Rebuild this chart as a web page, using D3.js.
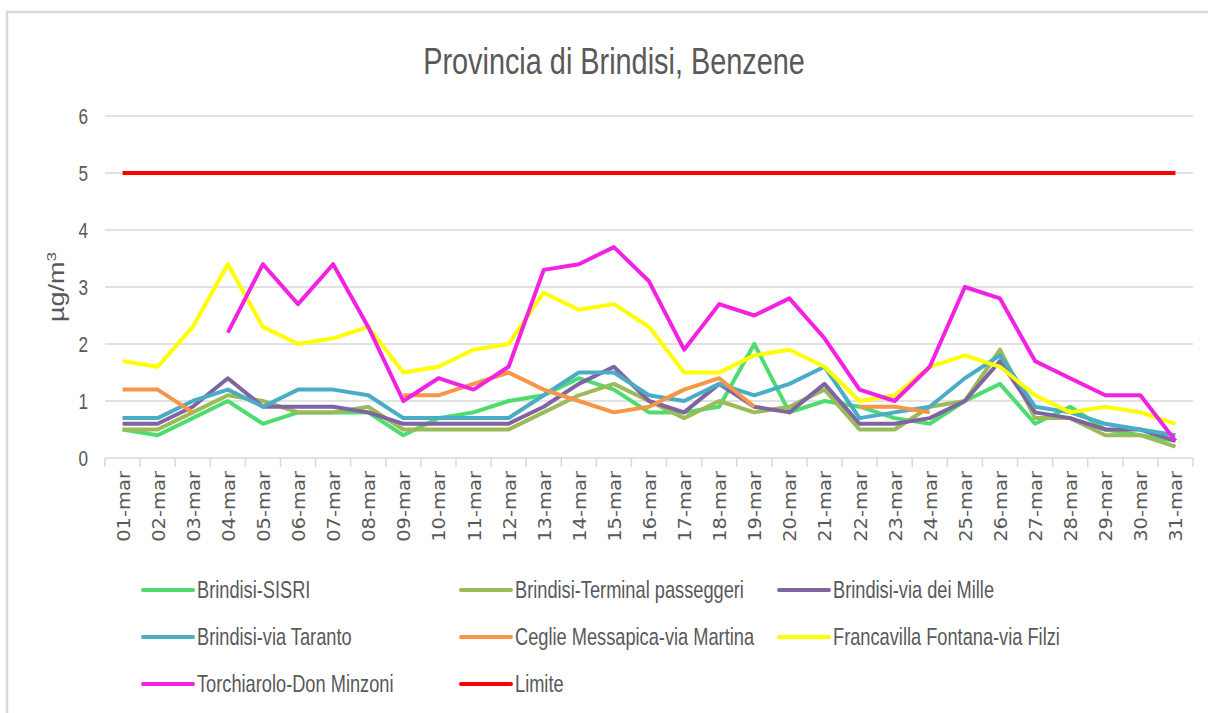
<!DOCTYPE html>
<html>
<head>
<meta charset="utf-8">
<script src="https://cdn.jsdelivr.net/npm/d3@7"></script>
<style>
  body { margin: 0; background: #fff; }
  text { font-family: "Liberation Sans", Arial, sans-serif; fill: #595959; }
</style>
</head>
<body>
<div id="chart"></div>
<script>
// categories
let days = ['01-mar','02-mar','03-mar','04-mar','05-mar','06-mar','07-mar','08-mar','09-mar','10-mar',
            '11-mar','12-mar','13-mar','14-mar','15-mar','16-mar','17-mar','18-mar','19-mar','20-mar',
            '21-mar','22-mar','23-mar','24-mar','25-mar','26-mar','27-mar','28-mar','29-mar','30-mar','31-mar'];

// series values (µg/m3), null = no data
let sisri       = [0.5,0.4,0.7,1.0,0.6,0.8,0.8,0.8,0.4,0.7,0.8,1.0,1.1,1.4,1.2,0.8,0.8,0.9,2.0,0.8,1.0,0.9,0.7,0.6,1.0,1.3,0.6,0.9,0.5,0.4,0.3];
let terminal    = [0.5,0.5,0.8,1.1,1.0,0.8,0.8,0.9,0.5,0.5,0.5,0.5,0.8,1.1,1.3,1.0,0.7,1.0,0.8,0.9,1.2,0.5,0.5,0.9,1.0,1.9,0.7,0.7,0.4,0.4,0.2];
let mille       = [0.6,0.6,0.9,1.4,0.9,0.9,0.9,0.8,0.6,0.6,0.6,0.6,0.9,1.3,1.6,1.0,0.8,1.3,0.9,0.8,1.3,0.6,0.6,0.7,1.0,1.7,0.8,0.7,0.5,0.5,0.3];
let taranto     = [0.7,0.7,1.0,1.2,0.9,1.2,1.2,1.1,0.7,0.7,0.7,0.7,1.1,1.5,1.5,1.1,1.0,1.3,1.1,1.3,1.6,0.7,0.8,0.9,1.4,1.8,0.9,0.8,0.6,0.5,0.4];
let ceglie      = [1.2,1.2,0.8,null,null,null,null,null,1.1,1.1,1.3,1.5,1.2,1.0,0.8,0.9,1.2,1.4,0.9,null,null,0.9,0.9,0.8,null,null,null,null,null,null,null];
let francavilla = [1.7,1.6,2.3,3.4,2.3,2.0,2.1,2.3,1.5,1.6,1.9,2.0,2.9,2.6,2.7,2.3,1.5,1.5,1.8,1.9,1.6,1.0,1.1,1.6,1.8,1.6,1.1,0.8,0.9,0.8,0.6];
let torchiarolo = [null,null,null,2.2,3.4,2.7,3.4,2.3,1.0,1.4,1.2,1.6,3.3,3.4,3.7,3.1,1.9,2.7,2.5,2.8,2.1,1.2,1.0,1.6,3.0,2.8,1.7,1.4,1.1,1.1,0.3];
let limite      = [5,5,5,5,5,5,5,5,5,5,5,5,5,5,5,5,5,5,5,5,5,5,5,5,5,5,5,5,5,5,5];

let yTicks = [0,1,2,3,4,5,6];

let seriesNames  = ['Brindisi-SISRI','Brindisi-Terminal passeggeri','Brindisi-via dei Mille',
                    'Brindisi-via Taranto','Ceglie Messapica-via Martina','Francavilla Fontana-via Filzi',
                    'Torchiarolo-Don Minzoni','Limite'];
let seriesColors = ['#4fdc6e','#9bbb59','#8064a2','#4bacc6','#f79646','#ffff00','#f222e2','#ff0000'];
let seriesValues = [sisri, terminal, mille, taranto, ceglie, francavilla, torchiarolo, limite];

// layout
let W = 1208, H = 713;
let plot = {left: 105, right: 1193, top: 116, bottom: 458};

let svg = d3.select('#chart').append('svg')
    .attr('width', W).attr('height', H);

// outer chart border (runs off the right and bottom edges)
svg.append('rect')
    .attr('x', 7).attr('y', 12)
    .attr('width', W + 20).attr('height', H + 20)
    .attr('fill', 'none').attr('stroke', '#d9d9d9').attr('stroke-width', 2.5);

let x = d3.scaleBand().domain(days).range([plot.left, plot.right]);
let y = d3.scaleLinear().domain([0, 6]).range([plot.bottom, plot.top]);

// helper for condensed horizontal text (picture text is squeezed sideways)
function hText(g, tx, ty, str, size, anchor, sq) {
    return g.append('text')
        .attr('transform', `translate(${tx},${ty}) scale(${sq},1)`)
        .style('font-size', size + 'px')
        .style('text-anchor', anchor)
        .text(str);
}

// title
hText(svg, W / 2 + 10, 74, 'Provincia di Brindisi, Benzene', 37, 'middle', 0.78);

// gridlines
svg.append('g').selectAll('line')
    .data(yTicks.filter(d => d > 0))
    .enter().append('line')
    .attr('x1', plot.left).attr('x2', plot.right)
    .attr('y1', d => y(d)).attr('y2', d => y(d))
    .attr('stroke', '#d9d9d9').attr('stroke-width', 1.3);

// y tick labels
let yLab = svg.append('g');
yTicks.forEach(t => hText(yLab, 88, y(t) + 8, String(t), 22, 'end', 0.78));

// y axis title
svg.append('text')
    .attr('transform', `translate(64,287) rotate(-90) scale(1,0.8)`)
    .style('font-size', '27px')
    .style('text-anchor', 'middle')
    .html('µg/m<tspan dy="-10" font-size="17px">3</tspan>');

// x axis line and ticks
let xAxis = svg.append('g');
xAxis.append('line')
    .attr('x1', plot.left).attr('x2', plot.right)
    .attr('y1', plot.bottom).attr('y2', plot.bottom)
    .attr('stroke', '#d9d9d9').attr('stroke-width', 1.5);
xAxis.selectAll('.tick')
    .data(days.map(d => x(d)).concat([plot.right]))
    .enter().append('line')
    .attr('x1', d => d).attr('x2', d => d)
    .attr('y1', plot.bottom).attr('y2', plot.bottom + 9)
    .attr('stroke', '#d9d9d9').attr('stroke-width', 1.5);

// x tick labels, rotated
xAxis.selectAll('.xlab')
    .data(days)
    .enter().append('text')
    .attr('transform', d => `translate(${x(d) + x.bandwidth() / 2 + 7},${plot.bottom + 13}) rotate(-90) scale(1,0.88)`)
    .style('font-family', '"DejaVu Sans", Verdana, sans-serif')
    .style('font-size', '19.5px')
    .style('text-anchor', 'end')
    .text(d => d);

// series lines
let line = d3.line()
    .defined(d => d.v !== null)
    .x(d => x(d.day) + x.bandwidth() / 2)
    .y(d => y(d.v));

seriesValues.forEach((vals, i) => {
    let data = days.map((d, j) => ({day: d, v: vals[j]}));
    svg.append('path')
        .datum(data)
        .attr('fill', 'none')
        .attr('stroke', seriesColors[i])
        .attr('stroke-width', 4)
        .attr('stroke-linejoin', 'round')
        .attr('d', line);
});

// legend, 3 columns
let legCols = [143, 461, 779];
let legRows = [590, 637, 684];
let legend = svg.append('g');
seriesNames.forEach((name, i) => {
    let cx = legCols[i % 3], cy = legRows[Math.floor(i / 3)];
    legend.append('line')
        .attr('x1', cx).attr('x2', cx + 50)
        .attr('y1', cy).attr('y2', cy)
        .attr('stroke', seriesColors[i])
        .attr('stroke-width', 4)
        .attr('stroke-linecap', 'round');
    hText(legend, cx + 54, cy + 8, name, 24, 'start', 0.76);
});
</script>
</body>
</html>
